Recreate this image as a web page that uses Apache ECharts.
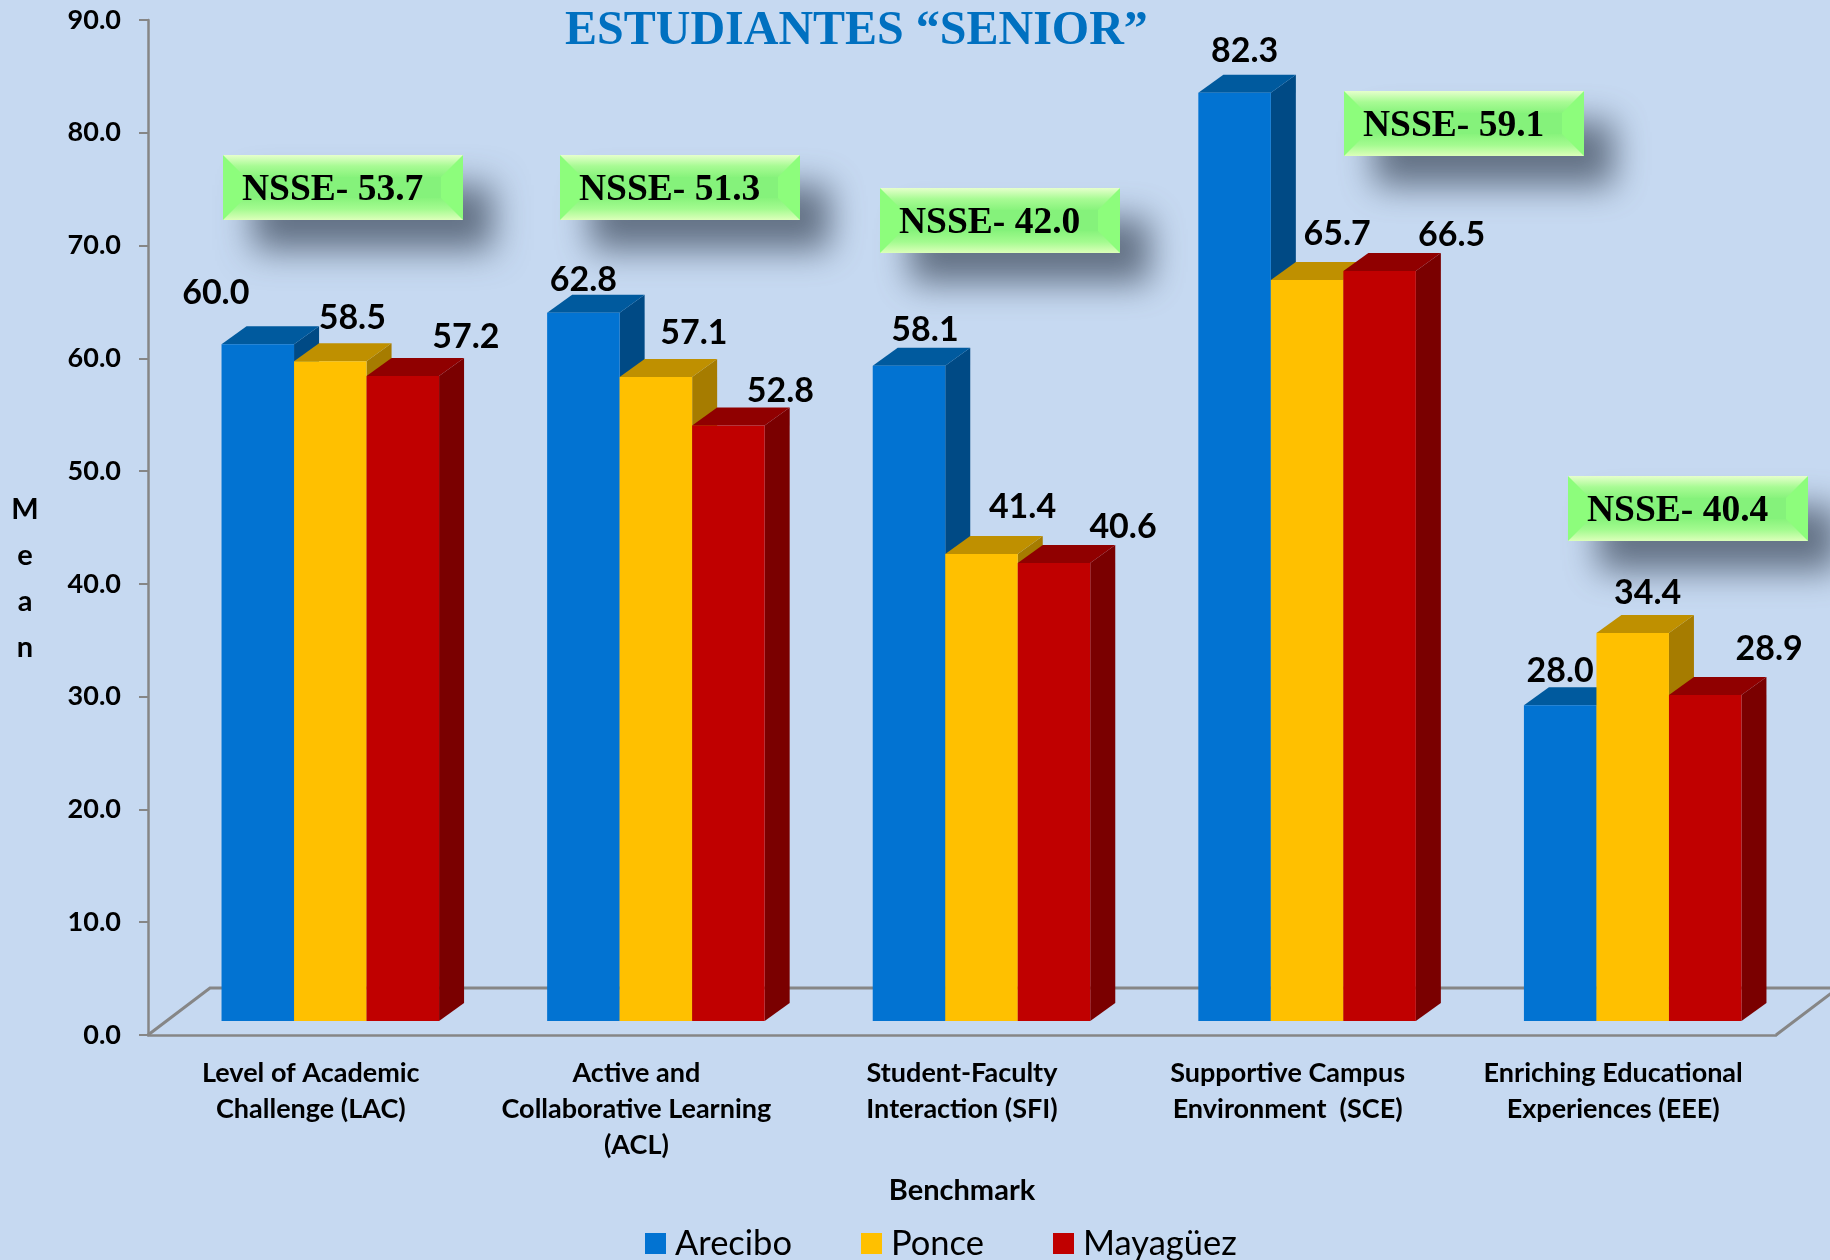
<!DOCTYPE html>
<html>
<head>
<meta charset="utf-8">
<title>Estudiantes Senior</title>
<script src="https://cdn.jsdelivr.net/npm/echarts@6/dist/echarts.min.js"></script>
<style>
  html, body { margin: 0; padding: 0; background: #C6D9F1; }
  #chart { width: 1830px; height: 1260px; }
</style>
</head>
<body>
<div id="chart"></div>
<script>
// data
const categories = [
  'Level of Academic\nChallenge (LAC)',
  'Active and\nCollaborative Learning\n(ACL)',
  'Student-Faculty\nInteraction (SFI)',
  'Supportive Campus\nEnvironment  (SCE)',
  'Enriching Educational\nExperiences (EEE)'
];
const arecibo = [60.0, 62.8, 58.1, 82.3, 28.0];
const ponce = [58.5, 57.1, 41.4, 65.7, 34.4];
const mayaguez = [57.2, 52.8, 40.6, 66.5, 28.9];
const nsse = [53.7, 51.3, 42.0, 59.1, 40.4];

// value label nudges from the bar's top centre, px
const areciboNudge = [[-42, -51], [0, -33], [16, -36], [10, -42], [0, -34]];
const ponceNudge = [[22, -43], [38, -44], [41, -47], [30, -46], [15, -40]];
const mayaguezNudge = [[63, -39], [52, -35], [69, -36], [72, -36], [64, -46]];

// top-left corner of each NSSE box, px
const nsseBoxes = [[223, 155], [560, 155], [880, 188], [1344, 91], [1568, 476]];

const BOX_W = 240, BOX_H = 65, BEVEL = 22;
const BAR_RATIO = 0.2227;
// the 3D look: front plane sits right of and above the axis plane
const SHIFT_X = 19.5, SHIFT_Y = -14;
const DEPTH_X = 25, DEPTH_Y = 18;
const FONT = 'Lato';

function barShape(api, slot, front, top, side) {
  const cat = api.value(0);
  const base = api.coord([cat, 0]);
  const head = api.coord([cat, api.value(1)]);
  const w = api.size([1, 0])[0] * BAR_RATIO;
  const l = base[0] + SHIFT_X + (slot - 1.5) * w;
  const r = l + w;
  const b = base[1] + SHIFT_Y;
  const t = head[1] + SHIFT_Y;
  return {
    type: 'group',
    children: [
      { type: 'polygon', shape: { points: [[r, b], [r + DEPTH_X, b - DEPTH_Y], [r + DEPTH_X, t - DEPTH_Y], [r, t]] }, style: { fill: side } },
      { type: 'polygon', shape: { points: [[l, t], [l + DEPTH_X, t - DEPTH_Y], [r + DEPTH_X, t - DEPTH_Y], [r, t]] }, style: { fill: top } },
      { type: 'rect', shape: { x: l, y: t, width: w, height: b - t }, style: { fill: front } }
    ]
  };
}

function barSeries(name, values, slot, front, top, side) {
  return {
    name: name,
    type: 'custom',
    coordinateSystem: 'cartesian2d',
    z: 3,
    clip: false,
    itemStyle: { color: front },
    encode: { x: 0, y: 1 },
    data: values.map((v, i) => [i, v]),
    renderItem: (params, api) => barShape(api, slot, front, top, side)
  };
}

// label rows: category, value, slot, nudge x, nudge y
const labelRows = [];
[[arecibo, areciboNudge], [ponce, ponceNudge], [mayaguez, mayaguezNudge]].forEach((pair, s) => {
  pair[0].forEach((v, i) => labelRows.push([i, v, s, pair[1][i][0], pair[1][i][1]]));
});

const labelSeries = {
  type: 'custom',
  coordinateSystem: 'cartesian2d',
  z: 6,
  clip: false,
  silent: true,
  encode: { x: 0, y: 1 },
  data: labelRows,
  renderItem: (params, api) => {
    const pos = api.coord([api.value(0), api.value(1)]);
    const w = api.size([1, 0])[0] * BAR_RATIO;
    return {
      type: 'text',
      style: {
        x: pos[0] + SHIFT_X + (api.value(2) - 1) * w + api.value(3),
        y: pos[1] + SHIFT_Y + api.value(4),
        text: api.value(1).toFixed(1),
        fill: '#000',
        font: 'bold 34px ' + FONT,
        align: 'center',
        verticalAlign: 'middle'
      }
    };
  }
};

// floor of the 3D plot: back wall line and the two diagonals
const floorSeries = {
  type: 'custom',
  coordinateSystem: 'cartesian2d',
  z: 1,
  clip: false,
  silent: true,
  data: [[0, 0]],
  renderItem: (params, api) => {
    const left = api.coord([0, 0]);
    const size = api.size([1, 0])[0];
    const x0 = left[0] - size / 2;
    const x1 = x0 + size * categories.length;
    const y0 = left[1];
    return {
      type: 'polyline',
      shape: { points: [[x0, y0], [x0 + 62, y0 - 47], [x1 + 62, y0 - 47], [x1, y0]] },
      style: { fill: 'none', stroke: '#868686', lineWidth: 3 }
    };
  }
};

function nsseBox(value, i) {
  const w = BOX_W, h = BOX_H, b = BEVEL;
  const lightDown = new echarts.graphic.LinearGradient(0, 0, 0, 1, [
    { offset: 0, color: '#e6ffcc' }, { offset: 0.5, color: '#a8fb94' }, { offset: 1, color: '#88f37c' }
  ]);
  const lightUp = new echarts.graphic.LinearGradient(0, 0, 0, 1, [
    { offset: 0, color: '#88f37c' }, { offset: 0.5, color: '#a4fb90' }, { offset: 1, color: '#dcffba' }
  ]);
  return {
    type: 'group',
    x: nsseBoxes[i][0],
    y: nsseBoxes[i][1],
    z: 2,
    children: [
      {
        type: 'rect',
        shape: { x: 0, y: 0, width: w, height: h },
        style: { fill: '#8dfd7c', shadowBlur: 34, shadowOffsetX: 30, shadowOffsetY: 30, shadowColor: 'rgba(60,72,90,0.72)' }
      },
      { type: 'rect', shape: { x: b, y: b, width: w - 2 * b, height: h - 2 * b }, style: { fill: '#85f27b' } },
      { type: 'polygon', shape: { points: [[0, 0], [w, 0], [w - b, b], [b, b]] }, style: { fill: lightDown } },
      { type: 'polygon', shape: { points: [[0, h], [w, h], [w - b, h - b], [b, h - b]] }, style: { fill: lightUp } },
      {
        type: 'text',
        style: {
          x: 19, y: h / 2 + 3,
          text: 'NSSE- ' + value.toFixed(1),
          fill: '#000',
          font: 'bold 37.5px "Liberation Serif"',
          verticalAlign: 'middle'
        }
      }
    ]
  };
}

// vertical y axis caption, sits lower than the axis middle
const meanCaption = {
  type: 'text',
  x: 25,
  y: 579,
  z: 2,
  style: {
    text: 'M\ne\na\nn',
    fill: '#000',
    font: 'bold 29px ' + FONT,
    lineHeight: 46,
    align: 'center',
    verticalAlign: 'middle'
  }
};

const chart = echarts.init(document.getElementById('chart'), null, { renderer: 'canvas' });
chart.setOption({
  animation: false,
  backgroundColor: '#C6D9F1',
  title: {
    text: 'ESTUDIANTES “SENIOR”',
    left: 560,
    top: 3,
    textStyle: { fontFamily: 'Liberation Serif', fontWeight: 'bold', fontSize: 48, color: '#0070C0' }
  },
  legend: {
    data: ['Arecibo', 'Ponce', 'Mayagüez'],
    left: 645,
    top: 1226,
    padding: 0,
    icon: 'rect',
    itemWidth: 21,
    itemHeight: 21,
    itemGap: 69,
    textStyle: { fontFamily: FONT, fontSize: 34.5, color: '#000', padding: [0, 0, 0, 4] }
  },
  grid: { left: 148, right: 54, top: 20, bottom: 225 },
  xAxis: {
    type: 'category',
    data: categories,
    name: 'Benchmark',
    nameLocation: 'middle',
    nameGap: 141,
    nameTextStyle: { fontFamily: FONT, fontWeight: 'bold', fontSize: 29, color: '#000' },
    axisLine: { lineStyle: { color: '#868686', width: 2.5 } },
    axisTick: { length: 9, lineStyle: { color: '#868686', width: 2 } },
    axisLabel: { fontFamily: FONT, fontWeight: 'bold', fontSize: 27, lineHeight: 36, color: '#000', margin: 20, interval: 0 }
  },
  yAxis: {
    type: 'value',
    min: 0,
    max: 90,
    interval: 10,
    splitLine: { show: false },
    axisLine: { show: true, lineStyle: { color: '#868686', width: 2.5 } },
    axisTick: { show: true, length: 9, lineStyle: { color: '#868686', width: 2 } },
    axisLabel: {
      fontFamily: FONT, fontWeight: 'bold', fontSize: 27, color: '#000', margin: 27,
      formatter: v => v.toFixed(1)
    }
  },
  graphic: nsse.map(nsseBox).concat([meanCaption]),
  series: [
    floorSeries,
    barSeries('Arecibo', arecibo, 0, '#0273D2', '#005A9E', '#004A85'),
    barSeries('Ponce', ponce, 1, '#FFC000', '#BF9000', '#A67C00'),
    barSeries('Mayagüez', mayaguez, 2, '#C00000', '#900000', '#7A0000'),
    labelSeries
  ]
});
</script>
</body>
</html>
